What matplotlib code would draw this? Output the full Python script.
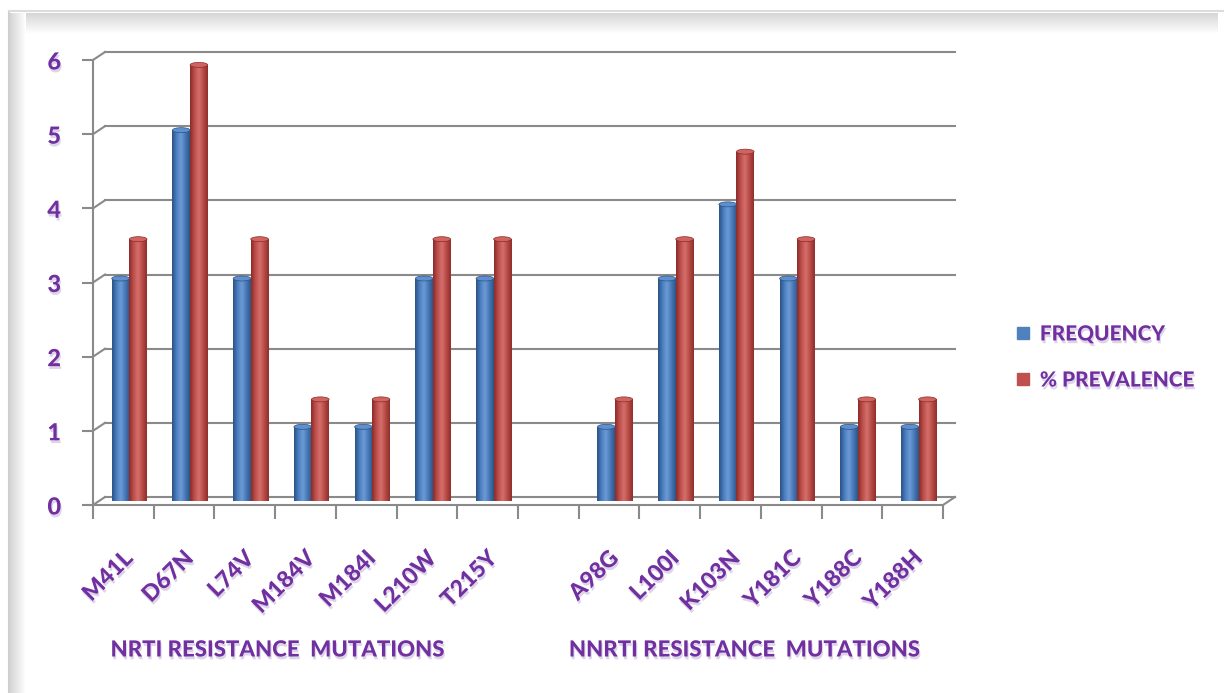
import numpy as np
import matplotlib.pyplot as plt
import matplotlib.patheffects as pe
from matplotlib.colors import LinearSegmentedColormap
from matplotlib.patches import Ellipse
from matplotlib.lines import Line2D

# Datos
mutaciones = ['M41L', 'D67N', 'L74V', 'M184V', 'M184I', 'L210W', 'T215Y', '',
              'A98G', 'L100I', 'K103N', 'Y181C', 'Y188C', 'Y188H']
frecuencia = [3, 5, 3, 1, 1, 3, 3, 0, 1, 3, 4, 3, 1, 1]
prevalencia = [3.53, 5.88, 3.53, 1.37, 1.37, 3.53, 3.53, 0, 1.37, 3.53, 4.71, 3.53, 1.37, 1.37]
grupos = ['NRTI RESISTANCE  MUTATIONS', 'NNRTI RESISTANCE  MUTATIONS']
series = ['FREQUENCY', '% PREVALENCE']

W, H = 1224, 693
PURPLE = '#7030A0'
GRID = '#8a8a8a'
FONT = 'Lato'
PESO = 'black'

sombra = [pe.withSimplePatchShadow(offset=(0.8, -2), shadow_rgbFace='#c9b8dc', alpha=0.6)]

fig = plt.figure(figsize=(W / 100, H / 100), dpi=100)

# Marco con sombra (decoración de fondo)
bg = fig.add_axes([0, 0, 1, 1], zorder=-5)
bg.set_xlim(0, W)
bg.set_ylim(H, 0)
bg.axis('off')
grad_v = np.linspace(0, 1, 50).reshape(-1, 1)
grad_h = np.linspace(0, 1, 50).reshape(1, -1)
gris = LinearSegmentedColormap.from_list('g', ['#d6d6d6', '#ffffff'])
bg.imshow(grad_v, extent=[10, 1218, 34, 13], cmap=gris, aspect='auto')
bg.imshow(grad_h, extent=[10, 26, H, 13], cmap=gris, aspect='auto')
bg.plot([9, 9], [11, H], color='#cfcfcf', lw=1.5)
bg.plot([9, W], [11, 11], color='#dcdcdc', lw=1.5)
bg.set_xlim(0, W)
bg.set_ylim(H, 0)

# Ejes principales
x0, y0, x1, y1 = 93, 505, 943, 60
ax = fig.add_axes([x0 / W, 1 - y0 / H, (x1 - x0) / W, (y0 - y1) / H])
n = len(mutaciones)
ax.set_xlim(0, n)
ax.set_ylim(0, 6)
ax.patch.set_alpha(0)

px_x = (x1 - x0) / n
px_y = (y0 - y1) / 6
dx, dy = 12 / px_x, 8 / px_y  # profundidad del efecto 3D

for s in ['top', 'right']:
    ax.spines[s].set_visible(False)
for s in ['left', 'bottom']:
    ax.spines[s].set_color(GRID)
    ax.spines[s].set_linewidth(1.5)

# Rejilla en la pared del fondo
for v in range(0, 7):
    ax.plot([dx, n + dx], [v + dy, v + dy], color=GRID, lw=1.5, clip_on=False, zorder=0)
    ax.plot([0, dx], [v, v + dy], color=GRID, lw=1.5, clip_on=False, zorder=0)
ax.plot([n, n + dx], [0, dy], color=GRID, lw=1.5, clip_on=False, zorder=0)

# Barras cilíndricas
x = np.arange(n) + 0.5
ancho = 0.29
cmap_azul = LinearSegmentedColormap.from_list('a', ['#2b5283', '#4a7fc0', '#6d9bd6', '#4677b5', '#2d5688'])
cmap_rojo = LinearSegmentedColormap.from_list('r', ['#8a2b28', '#be4f4b', '#d4706c', '#b84a46', '#8f2e2b'])
tapa = {'a': '#5e8fcf', 'r': '#cf6460'}
grad = np.linspace(0, 1, 64).reshape(1, -1)

for vals, desp, cm, key in [(frecuencia, -ancho / 2, cmap_azul, 'a'),
                            (prevalencia, ancho / 2, cmap_rojo, 'r')]:
    barras = ax.bar(x + desp + dx / 2, vals, width=ancho, bottom=dy / 2,
                    color=cm(0.5), edgecolor='none', zorder=2)
    for rect, v in zip(barras, vals):
        if v == 0:
            rect.set_visible(False)
            continue
        bx, by = rect.get_x(), rect.get_y()
        bw, bh = rect.get_width(), rect.get_height()
        im = ax.imshow(grad, extent=[bx, bx + bw, by, by + bh], cmap=cm,
                       aspect='auto', zorder=3, interpolation='bicubic')
        im.set_clip_path(rect)
        ax.add_patch(Ellipse((bx + bw / 2, by + bh), bw, 5 / px_y,
                             facecolor=tapa[key], edgecolor=cm(0.0), lw=0.5, zorder=4))

ax.set_xlim(0, n)
ax.set_ylim(0, 6)

# Marcas de ejes
ax.set_yticks(range(0, 7))
ax.set_yticklabels([str(v) for v in range(0, 7)])
ax.tick_params(axis='y', length=8, width=1.5, color=GRID, pad=15, labelsize=17,
               labelcolor=PURPLE)
ax.set_xticks(np.arange(n + 1))
ax.set_xticklabels([])
ax.tick_params(axis='x', which='major', length=10, width=1.5, color=GRID)
ax.set_xticks(x + dx / 2, minor=True)
ax.set_xticklabels(mutaciones, minor=True)
ax.tick_params(axis='x', which='minor', length=0, pad=36, labelsize=16.5,
               labelcolor=PURPLE)
for lab in ax.get_xticklabels(minor=True):
    lab.set_rotation(45)
    lab.set_ha('right')
    lab.set_va('center')
    lab.set_rotation_mode('anchor')
for lab in ax.get_xticklabels(minor=True) + ax.get_yticklabels():
    lab.set_fontfamily(FONT)
    lab.set_fontweight(PESO)
    lab.set_path_effects(sombra)

# Títulos de grupo
for txt, cx in zip(grupos, [278, 745]):
    fig.text(cx / W, 1 - 650 / H, txt, ha='center', va='center', color=PURPLE,
             fontsize=16, fontweight=PESO, family=FONT, path_effects=sombra)

# Leyenda
handles = [Line2D([], [], marker='s', ls='none', markersize=9, color='#4f81bd'),
           Line2D([], [], marker='s', ls='none', markersize=9, color='#c0504d')]
leg = fig.legend(handles, series, loc='center left',
                 bbox_to_anchor=(994 / W, 1 - 357 / H), frameon=False,
                 labelspacing=1.3, handletextpad=0.3, handlelength=1.0,
                 prop={'family': FONT, 'weight': PESO, 'size': 15})
for t in leg.get_texts():
    t.set_color(PURPLE)
    t.set_path_effects(sombra)

fig.savefig('out.png', dpi=100)
